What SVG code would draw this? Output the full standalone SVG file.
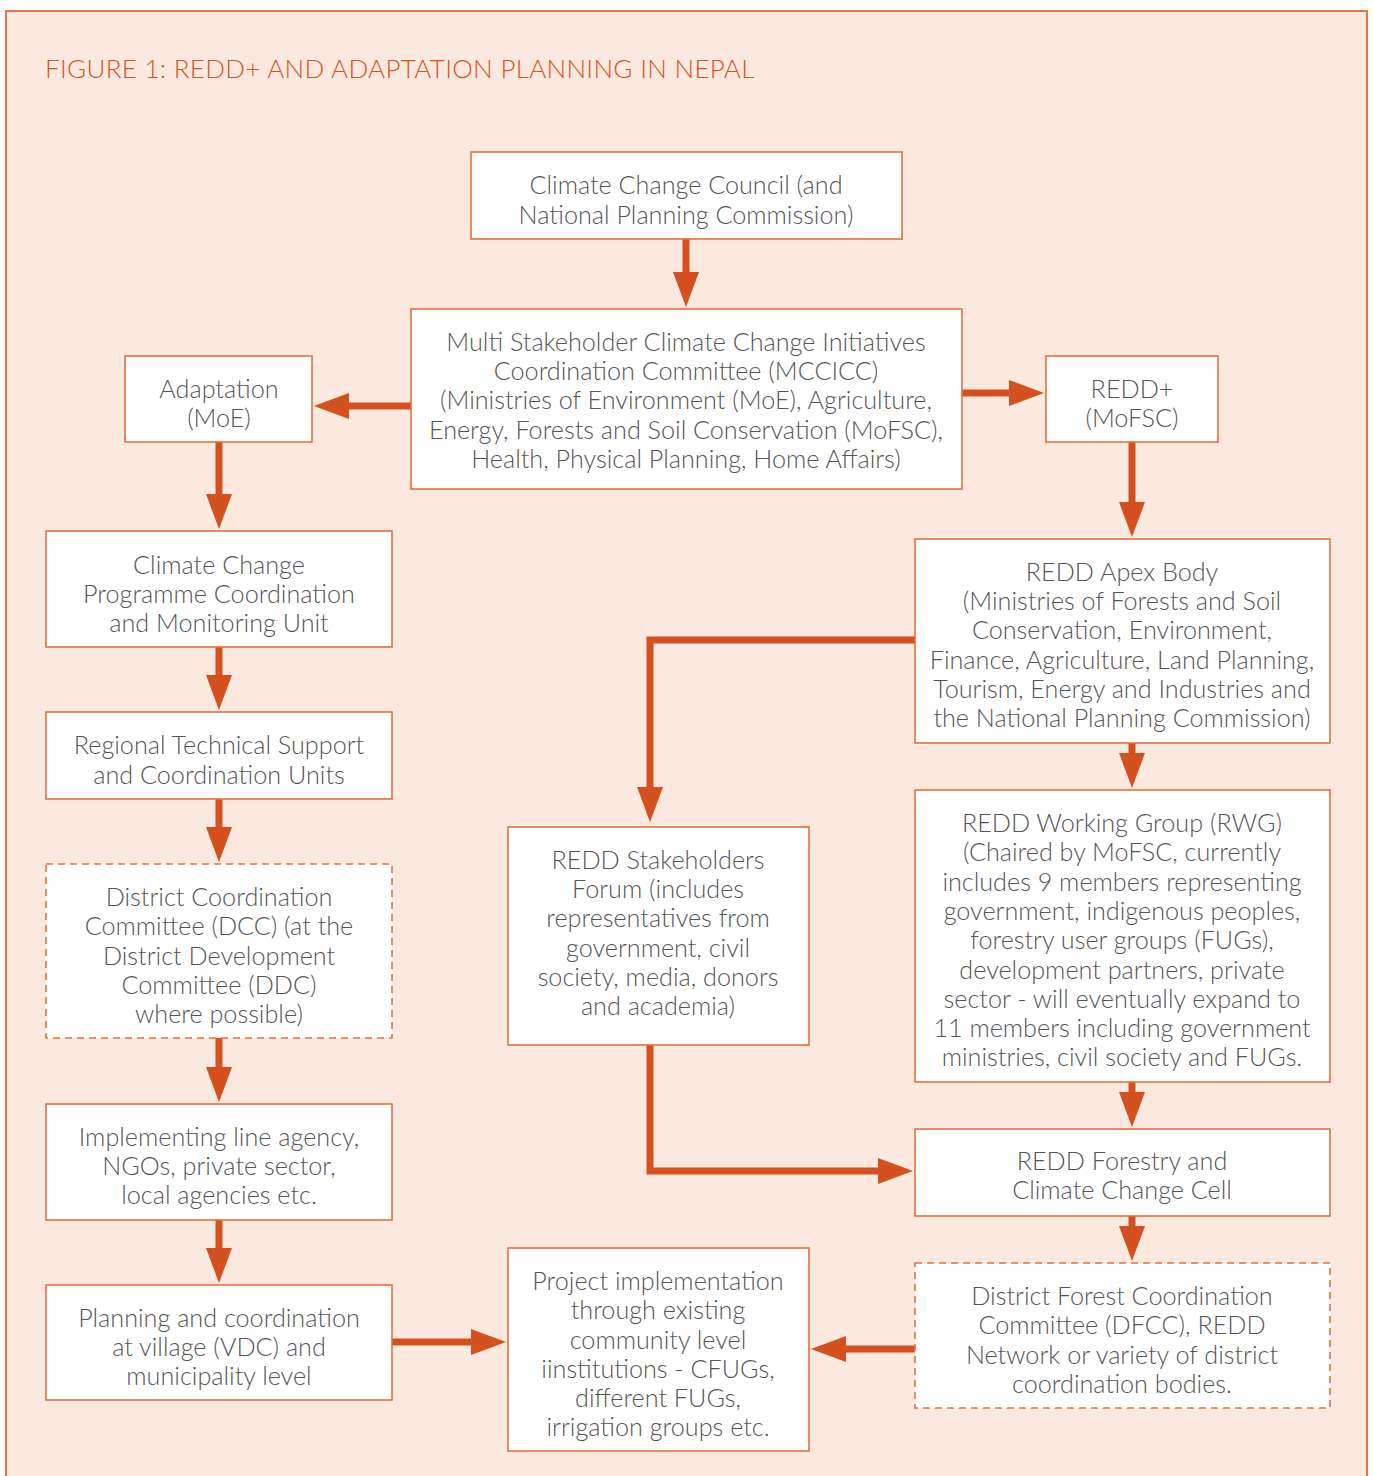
<svg xmlns="http://www.w3.org/2000/svg" width="1373" height="1476" viewBox="0 0 1373 1476">
<defs>
<style>
.bx{fill:#fff;stroke:#E4703F;stroke-width:1.6}
.ds{stroke-dasharray:7 5}
.t{font-family:Lato,"Open Sans","Liberation Sans",sans-serif;font-weight:300;font-size:25.2px;fill:#555557;text-anchor:middle}
.ar{fill:none;stroke:#D4501E;stroke-width:7}
</style>
<marker id="ah" markerUnits="userSpaceOnUse" markerWidth="36" markerHeight="26" refX="2" refY="13" orient="auto">
<path d="M0,0 L35,13 L0,26 z" fill="#D4501E"/>
</marker>
</defs>
<rect x="6" y="11" width="1361" height="1480" fill="#FBE8DE" stroke="#E8744A" stroke-width="2"/>
<text x="45" y="78" font-family="Lato,'Open Sans','Liberation Sans',sans-serif" font-weight="300" font-size="26" letter-spacing="0.3" fill="#D9531E">FIGURE 1: REDD+ AND ADAPTATION PLANNING IN NEPAL</text>

<g id="connectors">
<line class="ar" x1="686" y1="239" x2="686" y2="274" marker-end="url(#ah)"/>
<line class="ar" x1="411" y1="406" x2="347" y2="406" marker-end="url(#ah)"/>
<line class="ar" x1="962" y1="393" x2="1011" y2="393" marker-end="url(#ah)"/>
<line class="ar" x1="219" y1="442" x2="219" y2="496" marker-end="url(#ah)"/>
<line class="ar" x1="219" y1="647" x2="219" y2="677" marker-end="url(#ah)"/>
<line class="ar" x1="219" y1="799" x2="219" y2="829" marker-end="url(#ah)"/>
<line class="ar" x1="219" y1="1038" x2="219" y2="1069" marker-end="url(#ah)"/>
<line class="ar" x1="219" y1="1220" x2="219" y2="1250" marker-end="url(#ah)"/>
<line class="ar" x1="392" y1="1342" x2="473" y2="1342" marker-end="url(#ah)"/>
<line class="ar" x1="1132" y1="442" x2="1132" y2="504" marker-end="url(#ah)"/>
<polyline class="ar" points="915,640 650,640 650,789" marker-end="url(#ah)"/>
<line class="ar" x1="1132" y1="743" x2="1132" y2="755" marker-end="url(#ah)"/>
<line class="ar" x1="1132" y1="1082" x2="1132" y2="1094" marker-end="url(#ah)"/>
<polyline class="ar" points="650,1045 650,1171 880,1171" marker-end="url(#ah)"/>
<line class="ar" x1="1132" y1="1216" x2="1132" y2="1228" marker-end="url(#ah)"/>
<line class="ar" x1="924" y1="1349" x2="844" y2="1349" marker-end="url(#ah)"/>
</g>

<g id="ccc">
<rect class="bx" x="471" y="152" width="431" height="87"/>
<text class="t"><tspan x="686" y="194">Climate Change Council (and</tspan><tspan x="686" y="224">National Planning Commission)</tspan></text>
</g>
<g id="mccicc">
<rect class="bx" x="411" y="309" width="551" height="180"/>
<text class="t"><tspan x="686" y="351">Multi Stakeholder Climate Change Initiatives</tspan><tspan x="686" y="380">Coordination Committee (MCCICC)</tspan><tspan x="686" y="409">(Ministries of Environment (MoE), Agriculture,</tspan><tspan x="686" y="439">Energy, Forests and Soil Conservation (MoFSC),</tspan><tspan x="686" y="468">Health, Physical Planning, Home Affairs)</tspan></text>
</g>
<g id="adaptation">
<rect class="bx" x="125" y="356" width="187" height="86"/>
<text class="t"><tspan x="219" y="398">Adaptation</tspan><tspan x="219" y="427">(MoE)</tspan></text>
</g>
<g id="reddplus">
<rect class="bx" x="1046" y="356" width="172" height="86"/>
<text class="t"><tspan x="1132" y="398">REDD+</tspan><tspan x="1132" y="427">(MoFSC)</tspan></text>
</g>
<g id="ccpcmu">
<rect class="bx" x="46" y="531" width="346" height="116"/>
<text class="t"><tspan x="219" y="574">Climate Change</tspan><tspan x="219" y="603">Programme Coordination</tspan><tspan x="219" y="632">and Monitoring Unit</tspan></text>
</g>
<g id="regional">
<rect class="bx" x="46" y="712" width="346" height="87"/>
<text class="t"><tspan x="219" y="754">Regional Technical Support</tspan><tspan x="219" y="784">and Coordination Units</tspan></text>
</g>
<g id="dcc">
<rect class="bx ds" x="46" y="864" width="346" height="174"/>
<text class="t"><tspan x="219" y="906">District Coordination</tspan><tspan x="219" y="935">Committee (DCC) (at the</tspan><tspan x="219" y="965">District Development</tspan><tspan x="219" y="994">Committee (DDC)</tspan><tspan x="219" y="1023">where possible)</tspan></text>
</g>
<g id="implementing">
<rect class="bx" x="46" y="1104" width="346" height="116"/>
<text class="t"><tspan x="219" y="1146">Implementing line agency,</tspan><tspan x="219" y="1175">NGOs, private sector,</tspan><tspan x="219" y="1204">local agencies etc.</tspan></text>
</g>
<g id="planning">
<rect class="bx" x="46" y="1285" width="346" height="115"/>
<text class="t"><tspan x="219" y="1327">Planning and coordination</tspan><tspan x="219" y="1356">at village (VDC) and</tspan><tspan x="219" y="1385">municipality level</tspan></text>
</g>
<g id="project">
<rect class="bx" x="508" y="1248" width="301" height="203"/>
<text class="t"><tspan x="658" y="1290">Project implementation</tspan><tspan x="658" y="1319">through existing</tspan><tspan x="658" y="1349">community level</tspan><tspan x="658" y="1378">iinstitutions - CFUGs,</tspan><tspan x="658" y="1407">different FUGs,</tspan><tspan x="658" y="1436">irrigation groups etc.</tspan></text>
</g>
<g id="stakeholders">
<rect class="bx" x="508" y="827" width="301" height="218"/>
<text class="t"><tspan x="658" y="869">REDD Stakeholders</tspan><tspan x="658" y="898">Forum (includes</tspan><tspan x="658" y="927">representatives from</tspan><tspan x="658" y="957">government, civil</tspan><tspan x="658" y="986">society, media, donors</tspan><tspan x="658" y="1015">and academia)</tspan></text>
</g>
<g id="apex">
<rect class="bx" x="915" y="539" width="415" height="204"/>
<text class="t"><tspan x="1122" y="581">REDD Apex Body</tspan><tspan x="1122" y="610">(Ministries of Forests and Soil</tspan><tspan x="1122" y="639">Conservation, Environment,</tspan><tspan x="1122" y="669">Finance, Agriculture, Land Planning,</tspan><tspan x="1122" y="698">Tourism, Energy and Industries and</tspan><tspan x="1122" y="727">the National Planning Commission)</tspan></text>
</g>
<g id="rwg">
<rect class="bx" x="915" y="790" width="415" height="292"/>
<text class="t"><tspan x="1122" y="832">REDD Working Group (RWG)</tspan><tspan x="1122" y="861">(Chaired by MoFSC, currently</tspan><tspan x="1122" y="891">includes 9 members representing</tspan><tspan x="1122" y="920">government, indigenous peoples,</tspan><tspan x="1122" y="949">forestry user groups (FUGs),</tspan><tspan x="1122" y="979">development partners, private</tspan><tspan x="1122" y="1008">sector - will eventually expand to</tspan><tspan x="1122" y="1037">11 members including government</tspan><tspan x="1122" y="1066">ministries, civil society and FUGs.</tspan></text>
</g>
<g id="cell">
<rect class="bx" x="915" y="1129" width="415" height="87"/>
<text class="t"><tspan x="1122" y="1170">REDD Forestry and</tspan><tspan x="1122" y="1199">Climate Change Cell</tspan></text>
</g>
<g id="dfcc">
<rect class="bx ds" x="915" y="1263" width="415" height="145"/>
<text class="t"><tspan x="1122" y="1305">District Forest Coordination</tspan><tspan x="1122" y="1334">Committee (DFCC), REDD</tspan><tspan x="1122" y="1364">Network or variety of district</tspan><tspan x="1122" y="1393">coordination bodies.</tspan></text>
</g>
</svg>
